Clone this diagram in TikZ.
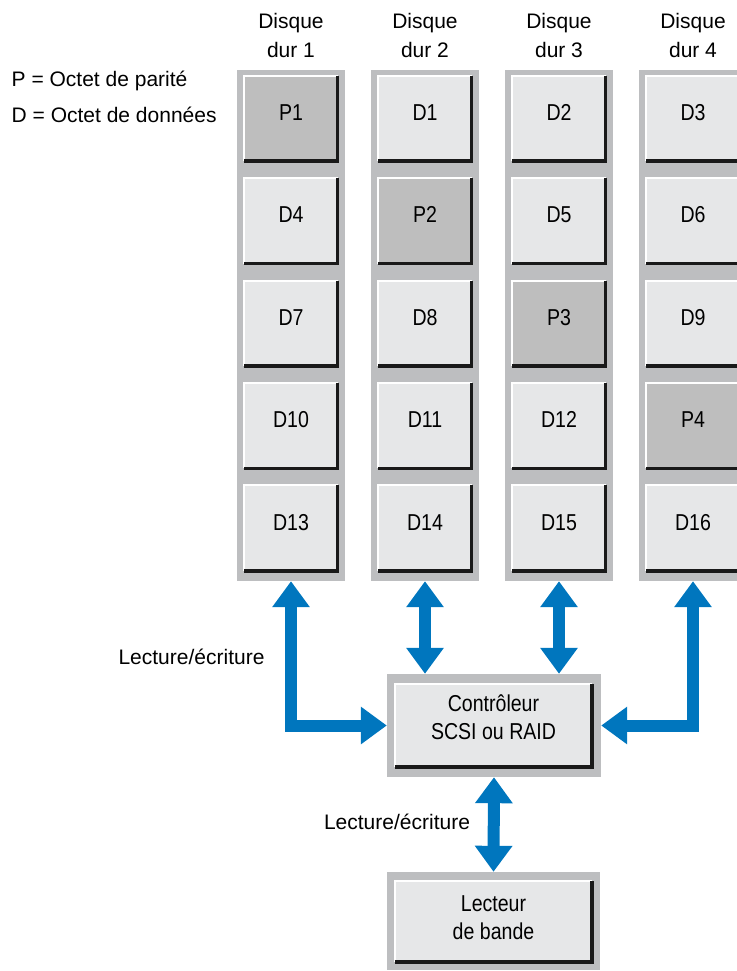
\documentclass[tikz,border=0pt]{standalone}
\usepackage{fontspec}
\setmainfont{Liberation Sans}
\newfontfamily\narrowfont{Liberation Sans}[FakeStretch=0.85]
\usetikzlibrary{arrows.meta,positioning}
\definecolor{diskgray}{RGB}{189,190,192}
\definecolor{cellgray}{RGB}{230,231,232}
\definecolor{paritygray}{RGB}{190,190,190}
\definecolor{linkblue}{RGB}{0,118,190}

\begin{document}
\begin{tikzpicture}[
  x=1pt, y=-1pt,
  node distance=17pt,
  font=\fontsize{21}{29}\selectfont,
  disk/.style={rectangle, fill=diskgray, minimum width=108pt, minimum height=511pt, inner sep=0pt},
  cell/.style={rectangle, fill=cellgray, minimum width=93pt, minimum height=85pt, inner sep=0pt, text depth=12pt, font=\narrowfont\fontsize{23}{28}\selectfont},
  parity/.style={cell, fill=paritygray},
  boxframe/.style={rectangle, fill=diskgray, inner sep=0pt},
  lightedge/.style={white, line width=2pt},
  darkedge/.style={black!90, line width=3.5pt},
  link/.style={draw=linkblue, line width=12pt, line join=miter, {Triangle[width=36pt,length=26pt]}-{Triangle[width=36pt,length=26pt]}},
]
\useasboundingbox (0,0) rectangle (736,971);

% legend
\node[anchor=base west, inner sep=0pt] (legp) at (11.5,87) {P = Octet de parité};
\node[anchor=base west, inner sep=0pt] (legd) at (11.5,122) {D = Octet de données};

% disks
\node[disk] (disk1) at (291,325.5) {};
\node[disk] (disk2) at (425,325.5) {};
\node[disk] (disk3) at (559,325.5) {};
\node[disk] (disk4) at (693,325.5) {};
\node[align=center, inner sep=0pt] (head1) at (291,35) {Disque\\dur 1};
\node[align=center, inner sep=0pt] (head2) at (425,35) {Disque\\dur 2};
\node[align=center, inner sep=0pt] (head3) at (559,35) {Disque\\dur 3};
\node[align=center, inner sep=0pt] (head4) at (693,35) {Disque\\dur 4};

% disk 1
\node[parity] (p1) at (291,118.5) {P1};
\node[cell, below=of p1] (d4) {D4};
\node[cell, below=of d4] (d7) {D7};
\node[cell, below=of d7] (d10) {D10};
\node[cell, below=of d10] (d13) {D13};
% disk 2
\node[cell] (d1) at (425,118.5) {D1};
\node[parity, below=of d1] (p2) {P2};
\node[cell, below=of p2] (d8) {D8};
\node[cell, below=of d8] (d11) {D11};
\node[cell, below=of d11] (d14) {D14};
% disk 3
\node[cell] (d2) at (559,118.5) {D2};
\node[cell, below=of d2] (d5) {D5};
\node[parity, below=of d5] (p3) {P3};
\node[cell, below=of p3] (d12) {D12};
\node[cell, below=of d12] (d15) {D15};
% disk 4
\node[cell] (d3) at (693,118.5) {D3};
\node[cell, below=of d3] (d6) {D6};
\node[cell, below=of d6] (d9) {D9};
\node[parity, below=of d9] (p4) {P4};
\node[cell, below=of p4] (d16) {D16};

% controller and tape
\node[boxframe, minimum width=214pt, minimum height=103pt] (ctrl) at (494,725.5) {};
\node[cell, minimum width=197pt, minimum height=83pt, text depth=16pt, align=center] (ctrlin) at (493.5,725.5) {Contrôleur\\SCSI ou RAID};
\node[boxframe, minimum width=213pt, minimum height=98pt] (tape) at (493.5,921) {};
\node[cell, minimum width=197pt, minimum height=81pt, text depth=8pt, align=center] (tapein) at (493.5,921.5) {Lecteur\\de bande};

\foreach \c in {p1,d4,d7,d10,d13,d1,p2,d8,d11,d14,d2,d5,p3,d12,d15,d3,d6,d9,p4,d16,ctrlin,tapein}{
  \draw[lightedge] (\c.south west) -- (\c.north west) -- (\c.north east);
  \draw[darkedge] (\c.south west) -- (\c.south east) -- (\c.north east);
}

% read/write links
\draw[link] (disk1.south) |- (ctrl.west);
\draw[link] (disk2.south) -- (disk2.south |- ctrl.north);
\draw[link] (disk3.south) -- (disk3.south |- ctrl.north);
\draw[link] (disk4.south) |- (ctrl.east);
\draw[link] (ctrl.south) -- (tape.north);

\node[anchor=base, inner sep=0pt] (rw1) at (191.5,664.3) {Lecture/écriture};
\node[anchor=base, inner sep=0pt] (rw2) at (397,829) {Lecture/écriture};
\end{tikzpicture}
\end{document}
